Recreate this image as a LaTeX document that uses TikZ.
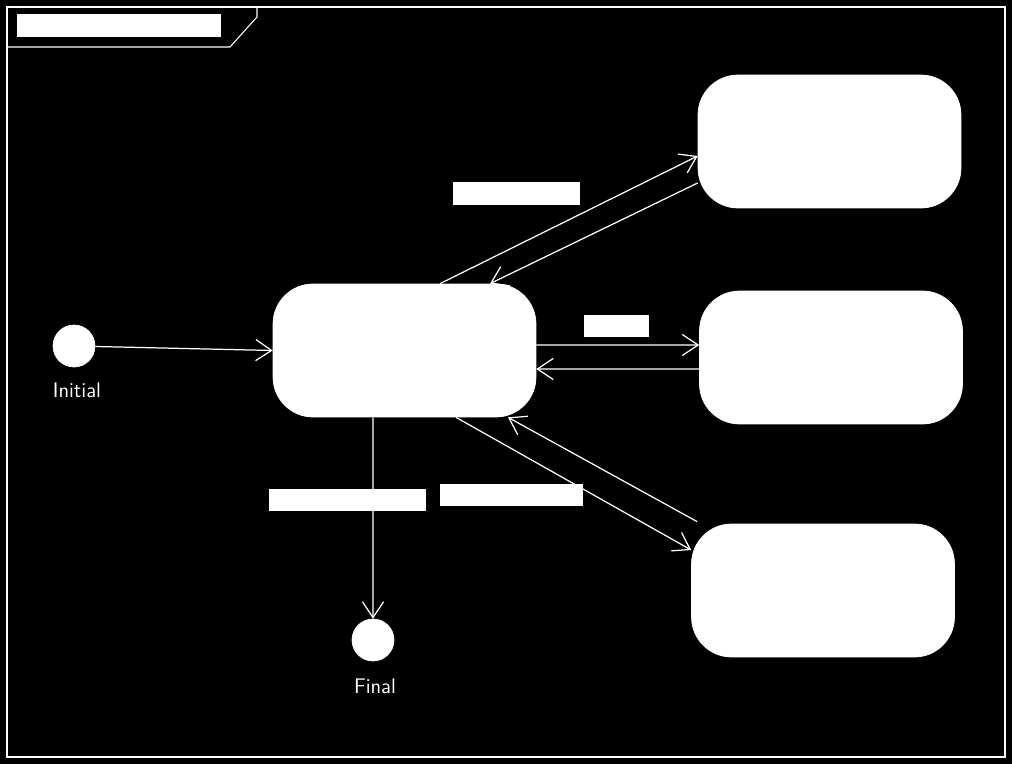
\documentclass[tikz,border=0pt]{standalone}
\usetikzlibrary{positioning,arrows.meta}
\tikzset{state/.style={draw=white,fill=white,rounded corners=0.8cm,minimum width=5.26cm,minimum height=2.66cm},
  pseudo/.style={draw=white,fill=white,circle,inner sep=0pt,minimum size=0.84cm},
  lbl/.style={fill=white,inner sep=0pt},
  trans/.style={white,line width=0.7pt,-{Straight Barb[length=9pt,width=12pt]}}}
\begin{document}
\begin{tikzpicture}[x=0.02cm,y=-0.02cm]
        %Background and frame
        \fill[black] (0,0) rectangle (1012,764);
        \draw[white,line width=0.6pt] (7,7) rectangle (1005,757);
        \draw[white,line width=0.6pt] (7,47) -- (230,47) -- (257,17) -- (257,7);
        \node[lbl,minimum width=4.08cm,minimum height=0.46cm] (title) at (119,25.5) {};
        %States
        \node[pseudo] (init) at (74,346) {};
        \node[white,font=\sffamily\large] (initlbl) at (77,390) {Initial};
        \node[pseudo] (fin) at (373,640) {};
        \node[white,font=\sffamily\large] (finlbl) at (375,686) {Final};
        \node[state] (mid) at (404.5,350.5) {};
        \node[state] (sa) at (829.5,141.5) {};
        \node[state] (sb) at (831,357.5) {};
        \node[state] (sc) at (823,590.5) {};
        %Transitions
        \draw[trans] (init) -- (mid.west);
        \draw[trans] ([xshift=0.71cm]mid.north) -- ([yshift=-0.29cm]sa.west);
        \draw[trans] ([yshift=-0.83cm]sa.west) -- ([xshift=1.71cm]mid.north);
        \draw[trans] ([yshift=0.11cm]mid.east) -- ([yshift=0.25cm]sb.west);
        \draw[trans] ([yshift=-0.23cm]sb.west) -- ([yshift=-0.37cm]mid.east);
        \draw[trans] ([xshift=1.03cm]mid.south) -- ([yshift=0.81cm]sc.west);
        \draw[trans] ([xshift=0.12cm,yshift=0.04cm]sc.north west) -- ([xshift=2.07cm]mid.south);
        \draw[trans] ([xshift=-0.63cm]mid.south) -- (fin.north);
        %Labels
        \node[lbl,minimum width=2.54cm,minimum height=0.46cm] (la) at (516.5,193.5) {};
        \node[lbl,minimum width=1.3cm,minimum height=0.44cm] (lb) at (616.5,326) {};
        \node[lbl,minimum width=3.14cm,minimum height=0.44cm] (lf) at (347.5,500) {};
        \node[lbl,minimum width=2.86cm,minimum height=0.44cm] (lc) at (511.5,495) {};
\end{tikzpicture}
\end{document}
